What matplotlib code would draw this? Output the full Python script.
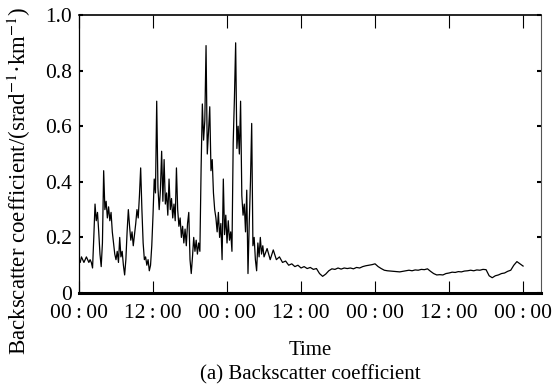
import numpy as np
import matplotlib
matplotlib.use("Agg")
import matplotlib.pyplot as plt

plt.rcParams['font.family'] = ['Liberation Serif', 'DejaVu Serif']
plt.rcParams['mathtext.fontset'] = 'stix'

# backscatter values
# first part: 0..30 h every 0.2 h (the spiky part)
spiky_vals = [
    0.12, 0.11, 0.13, 0.12, 0.11, 0.12, 0.13, 0.12, 0.11, 0.12, 0.11,
    0.09, 0.20, 0.32, 0.26, 0.29, 0.22, 0.14, 0.095, 0.18, 0.44,
    0.30, 0.33, 0.27, 0.31, 0.26, 0.29, 0.22, 0.18, 0.14, 0.12,
    0.15, 0.11, 0.20, 0.13, 0.15, 0.10, 0.065, 0.12, 0.22, 0.30,
    0.24, 0.19, 0.22, 0.17, 0.21, 0.25, 0.30, 0.27, 0.35, 0.45,
    0.30, 0.18, 0.12, 0.13, 0.10, 0.12, 0.08, 0.10, 0.17, 0.28,
    0.41, 0.36, 0.69, 0.38, 0.30, 0.37, 0.51, 0.33, 0.48, 0.32,
    0.36, 0.28, 0.41, 0.30, 0.34, 0.27, 0.32, 0.26, 0.45, 0.30,
    0.24, 0.27, 0.20, 0.24, 0.18, 0.23, 0.17, 0.25, 0.29, 0.12,
    0.07, 0.13, 0.20, 0.15, 0.19, 0.14, 0.18, 0.15, 0.45, 0.68,
    0.55, 0.62, 0.89, 0.50, 0.58, 0.67, 0.44, 0.48, 0.36, 0.30,
    0.27, 0.22, 0.29, 0.20, 0.25, 0.12, 0.41, 0.21, 0.28, 0.18,
    0.26, 0.19, 0.22, 0.15, 0.54, 0.70, 0.90, 0.52, 0.60, 0.50,
    0.69, 0.35, 0.28, 0.32, 0.22, 0.37, 0.07, 0.25, 0.40, 0.61,
    0.17, 0.20, 0.12, 0.08, 0.18, 0.13, 0.20, 0.14, 0.17, 0.13,
]
# second part: 30.5..72 h every 0.5 h (the calm part)
calm_vals = [
    0.16, 0.12, 0.155, 0.12, 0.13, 0.11, 0.115, 0.10, 0.105, 0.095,
    0.10, 0.09, 0.095, 0.088, 0.092, 0.085, 0.088, 0.07, 0.06, 0.068,
    0.08, 0.087, 0.085, 0.09, 0.086, 0.09, 0.088, 0.09, 0.087, 0.092,
    0.09, 0.095, 0.098, 0.10, 0.102, 0.105, 0.095, 0.088, 0.082, 0.08,
    0.079, 0.078, 0.077, 0.076, 0.078, 0.08, 0.082, 0.08, 0.083, 0.082,
    0.085, 0.084, 0.087, 0.078, 0.07, 0.065, 0.066, 0.065, 0.07, 0.072,
    0.075, 0.074, 0.077, 0.076, 0.079, 0.08, 0.082, 0.08, 0.083, 0.082,
    0.085, 0.084, 0.062, 0.055, 0.062, 0.065, 0.07, 0.072, 0.078, 0.082,
    0.10, 0.113, 0.105, 0.097,
]
tick_hours = [0, 12, 24, 36, 48, 60, 72]
tick_labels = ['00\u2009:\u200900', '12\u2009:\u200900', '00\u2009:\u200900', '12\u2009:\u200900',
               '00\u2009:\u200900', '12\u2009:\u200900', '00\u2009:\u200900']

t1 = np.arange(len(spiky_vals)) * 0.2
t2 = 30.5 + np.arange(len(calm_vals)) * 0.5
hours = np.concatenate([t1, t2])
vals = np.array(spiky_vals + calm_vals)

fig = plt.figure(figsize=(5.52, 3.88), dpi=100)
ax = fig.add_axes([0.1431, 0.2448, 0.8369, 0.7165])

ax.plot(hours, vals, color='black', lw=0.9)

ax.set_xlim(0, 74.9)
ax.set_ylim(0, 1.0)
ax.set_xticks(tick_hours)
ax.set_xticklabels(tick_labels)
ax.set_yticks([0, 0.2, 0.4, 0.6, 0.8, 1.0])
ax.set_yticklabels(['0', '0.2', '0.4', '0.6', '0.8', '1.0'])

ax.tick_params(axis='x', direction='in', length=9, width=0.8, top=True, labelsize=15.5, pad=8)
ax.tick_params(axis='y', direction='in', length=3, width=1.5, right=True, labelsize=15.5, pad=5)

ax.spines['bottom'].set_linewidth(2.2)
ax.spines['top'].set_linewidth(1.2)
ax.spines['left'].set_linewidth(0.9)
ax.spines['right'].set_linewidth(0.8)
ax.spines['right'].set_color('#555555')

ax.set_xlabel('Time', fontsize=15)
ax.xaxis.set_label_coords(0.5, -0.205)
ax.xaxis.label.set_va('center')
ax.set_ylabel('Backscatter coefficient/(srad$^{-1}$\u00b7km$^{-1}$)', fontsize=16.5)
ax.yaxis.set_label_coords(-0.13, 0.403)
ax.yaxis.label.set_va('center')

fig.text(0.562, 0.033, '(a) Backscatter coefficient', ha='center', va='center', fontsize=15)

fig.savefig('out.png', dpi=100)
